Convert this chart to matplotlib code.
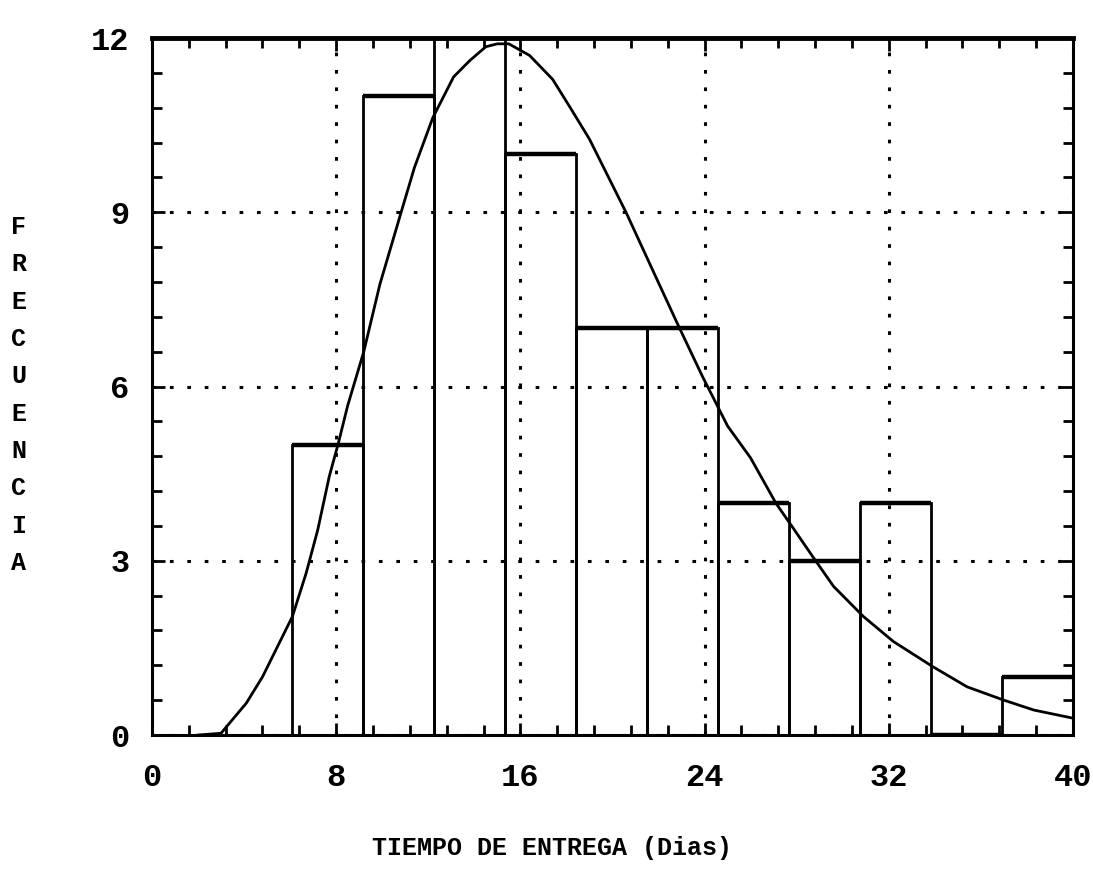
import numpy as np
import matplotlib.pyplot as plt
from matplotlib.ticker import MultipleLocator

# Histograma: bordes de clase y frecuencias
bordes = [6.1, 9.18, 12.26, 15.34, 18.42, 21.5, 24.58, 27.66, 30.74, 33.82, 36.9, 39.98]
frecuencias = [5, 11, 12, 10, 7, 7, 4, 3, 4, 0, 1]

# Curva ajustada
curva_x = [2.0, 3.0, 4.1, 4.8, 6.1, 6.7, 7.2, 7.7, 8.1, 8.5, 9.2, 9.9, 10.8, 11.4,
           12.2, 13.1, 13.8, 14.5, 15.0, 15.5, 16.4, 17.4, 18.2, 19.0, 20.6, 21.6,
           22.8, 23.9, 25.0, 26.0, 27.1, 27.8, 28.7, 29.6, 30.9, 32.2, 33.9, 35.4,
           37.0, 38.3, 40.0]
curva_y = [0.0, 0.03, 0.55, 1.0, 2.04, 2.79, 3.53, 4.45, 5.03, 5.67, 6.6, 7.76, 8.97,
           9.77, 10.63, 11.33, 11.61, 11.85, 11.9, 11.9, 11.7, 11.29, 10.78, 10.26,
           8.99, 8.13, 7.10, 6.18, 5.32, 4.77, 3.99, 3.59, 3.07, 2.56, 2.04, 1.61,
           1.18, 0.83, 0.60, 0.43, 0.29]

xticks = [0, 8, 16, 24, 32, 40]
yticks = [0, 3, 6, 9, 12]

fuente = 'Liberation Mono'

fig = plt.figure(figsize=(10.93, 8.74), dpi=100)
ax = fig.add_axes([0.139, 0.159, 0.8427, 0.7975])

anchos = np.diff(bordes)
ax.bar(bordes[:-1], frecuencias, width=anchos, align='edge', fill=False,
       edgecolor='black', linewidth=2, zorder=3)
# bordes superiores mas gruesos
ax.hlines(frecuencias, bordes[:-1], bordes[1:], colors='black', linewidth=3.2, zorder=3)

ax.plot(curva_x, curva_y, color='black', linewidth=2, zorder=4)

ax.set_xlim(0, 40)
ax.set_ylim(0, 12)
ax.set_xticks(xticks)
ax.set_yticks(yticks)
ax.xaxis.set_minor_locator(MultipleLocator(1.6))
ax.yaxis.set_minor_locator(MultipleLocator(0.6))
ax.tick_params(which='both', direction='in', top=True, right=True, width=2, color='black')
ax.tick_params(which='major', length=9)
ax.tick_params(which='minor', length=7)
ax.tick_params(axis='x', which='major', pad=20)
ax.tick_params(axis='y', which='major', pad=16)

for lab in ax.get_xticklabels() + ax.get_yticklabels():
    lab.set_fontfamily(fuente)
    lab.set_fontsize(23)
    lab.set_fontweight('bold')

ax.grid(True, which='major', color='black', linestyle=(0, (1.2, 4.5)), linewidth=2.2, zorder=1)
for s in ax.spines.values():
    s.set_linewidth(2.2)
ax.spines['top'].set_linewidth(3.5)

ax.set_xlabel('TIEMPO DE ENTREGA (Dias)', fontfamily=fuente, fontsize=18,
              fontweight='bold')
ax.xaxis.set_label_coords(0.434, -0.145)

fig.text(0.017, 0.548, '\n'.join('FRECUENCIA'), fontfamily=fuente, fontsize=18,
         fontweight='bold', ha='center', va='center', linespacing=1.7)

plt.savefig('out.png', dpi=100)
